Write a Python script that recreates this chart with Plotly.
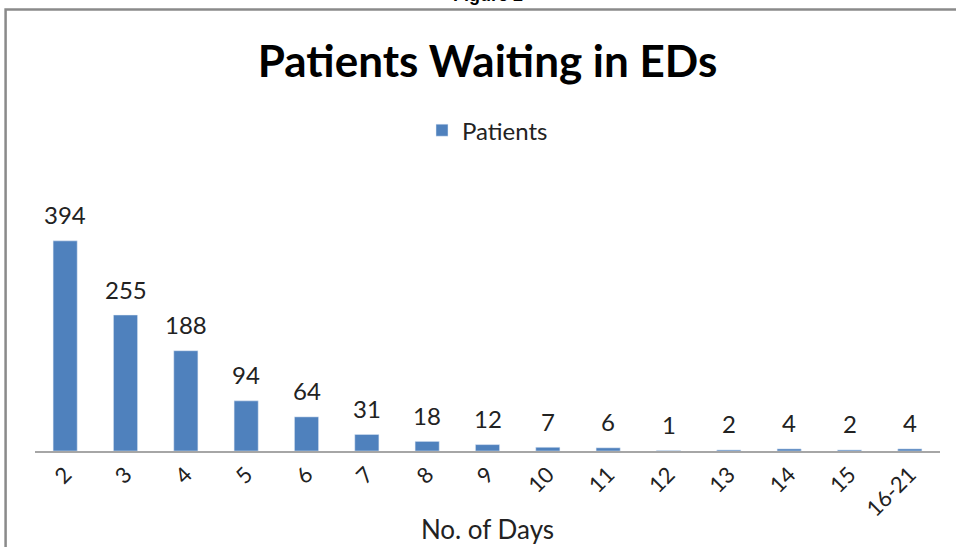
import plotly.graph_objects as go

# waiting time buckets and patient counts
days = ['2', '3', '4', '5', '6', '7', '8', '9', '10', '11', '12', '13', '14', '15', '16-21']
patients = [394, 255, 188, 94, 64, 31, 18, 12, 7, 6, 1, 2, 4, 2, 4]

bar_color = '#4F81BD'
font = 'Lato'
text_color = '#222222'

fig = go.Figure()
fig.add_trace(go.Bar(x=days, y=patients, name='Patients', marker_color=bar_color,
                     showlegend=True))

# data labels sit well above each bar, like the Excel chart
for i, p in enumerate(patients):
    fig.add_annotation(x=i, y=p, text=str(p), showarrow=False, yanchor='middle',
                       yshift=26, font=dict(family=font, size=24, color=text_color))

# partially clipped caption above the chart frame
fig.add_annotation(xref='paper', yref='paper', x=0.5, y=1.852, yanchor='bottom',
                   text='<b>Figure 2</b>', showarrow=False,
                   font=dict(family='Liberation Sans', size=18, color='black'))

# chart frame (left and top edges visible)
fig.add_shape(type='rect', xref='paper', yref='paper', x0=-0.0325, x1=1.2,
              y0=-1.0, y1=1.84, line=dict(color='#8a8a8a', width=2.5))

fig.update_layout(
    width=956, height=547,
    margin=dict(l=35, r=16, t=211, b=96),
    paper_bgcolor='white', plot_bgcolor='white',
    bargap=0.6,
    title=dict(text='<b>Patients Waiting in EDs</b>', x=0.51, xanchor='center',
               y=1 - 62 / 547, yanchor='middle',
               font=dict(family=font, size=44, color='black')),
    legend=dict(orientation='h', x=0.5, xanchor='center', y=1.335, yanchor='middle',
                font=dict(family=font, size=24, color=text_color)),
    font=dict(family=font, color=text_color),
)
fig.update_xaxes(type='category', showline=True, linecolor='#a6a6a6', linewidth=2,
                 ticks='', tickangle=-45, automargin=False,
                 tickfont=dict(family=font, size=22, color=text_color),
                 title=dict(text='No. of Days', font=dict(family=font, size=26, color=text_color),
                            standoff=0))
fig.update_yaxes(range=[0, 450], visible=False)

# drop the default page margin so the figure sits at the window's corner
fig.write_html('out.html', config={'displayModeBar': False},
               post_script="document.body.style.margin='0';")
